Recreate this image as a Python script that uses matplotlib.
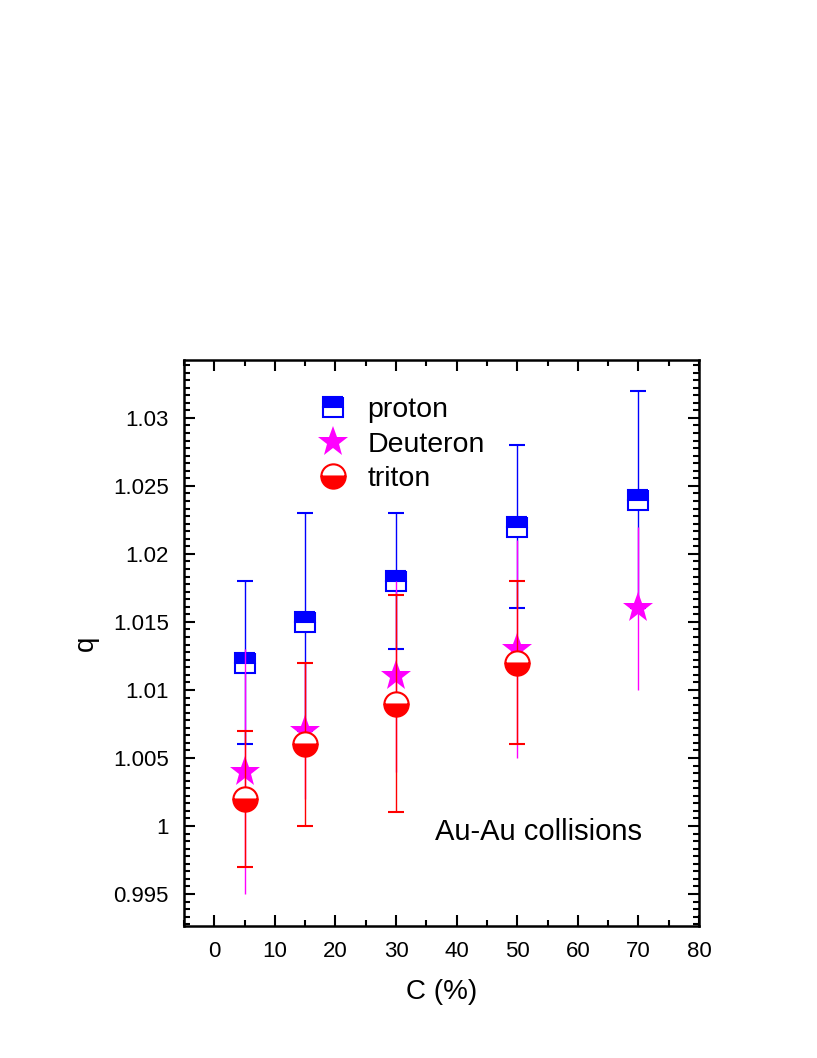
import matplotlib.pyplot as plt
from matplotlib.ticker import MultipleLocator, AutoMinorLocator

# centrality classes (%)
centrality = [5, 15, 30, 50, 70]

# proton
q_proton = [1.012, 1.015, 1.018, 1.022, 1.024]
err_proton = [0.006, 0.008, 0.005, 0.006, 0.008]

# deuteron
q_deuteron = [1.004, 1.007, 1.011, 1.013, 1.016]
err_deuteron = [0.009, 0.005, 0.007, 0.008, 0.006]

# triton (no 70% point)
c_triton = [5, 15, 30, 50]
q_triton = [1.002, 1.006, 1.009, 1.012]
err_triton = [0.005, 0.006, 0.008, 0.006]


def main():
    plt.rcParams['font.family'] = ['Liberation Sans', 'DejaVu Sans']

    fig = plt.figure(figsize=(8.17, 10.58), dpi=100)
    ax = fig.add_axes([0.2252, 0.1248, 0.6304, 0.5350])

    eb_p = ax.errorbar(centrality, q_proton, yerr=err_proton, fmt='s', color='blue',
                       ms=15, mew=1.5, mfc='blue', mfcalt='white', fillstyle='top',
                       elinewidth=1.0, capsize=5.8, capthick=1.0, zorder=3)
    eb_d = ax.errorbar(centrality, q_deuteron, yerr=err_deuteron, fmt='*', color='magenta',
                       ms=23, mew=0, elinewidth=1.0, capsize=5.8, capthick=1.0, zorder=4)
    eb_t = ax.errorbar(c_triton, q_triton, yerr=err_triton, fmt='o', color='red',
                       ms=17.5, mew=1.5, mfc='red', mfcalt='white', fillstyle='bottom',
                       elinewidth=1.0, capsize=5.8, capthick=1.0, zorder=5)

    ax.set_xlim(-5, 80)
    ax.set_ylim(0.99265, 1.03426)
    ax.xaxis.set_major_locator(MultipleLocator(10))
    ax.xaxis.set_minor_locator(MultipleLocator(5))
    ax.set_yticks([0.995, 1.0, 1.005, 1.01, 1.015, 1.02, 1.025, 1.03])
    ax.set_yticklabels(['0.995', '1', '1.005', '1.01', '1.015', '1.02', '1.025', '1.03'])
    ax.yaxis.set_minor_locator(AutoMinorLocator(9))

    ax.tick_params(which='both', direction='in', top=True, right=True,
                   width=1.5, labelsize=16)
    ax.tick_params(which='major', length=8, pad=11)
    ax.tick_params(which='minor', length=4.5)
    for s in ax.spines.values():
        s.set_linewidth(1.8)

    ax.set_xlabel('C (%)', fontsize=20, labelpad=12)
    ax.set_ylabel('q', fontsize=20, labelpad=10)

    ax.text(0.487, 0.166, 'Au-Au collisions', transform=ax.transAxes,
            fontsize=21, ha='left', va='center')

    # legend shows markers only, no error bars
    ax.legend([eb_p[0], eb_d[0], eb_t[0]], ['proton', 'Deuteron', 'triton'],
              loc='upper left', bbox_to_anchor=(0.262, 0.934), frameon=False,
              fontsize=20.5, handlelength=1.0, handletextpad=0.7,
              labelspacing=0.29, borderpad=0, borderaxespad=0, numpoints=1)

    fig.savefig('out.png', dpi=100)


if __name__ == '__main__':
    main()
